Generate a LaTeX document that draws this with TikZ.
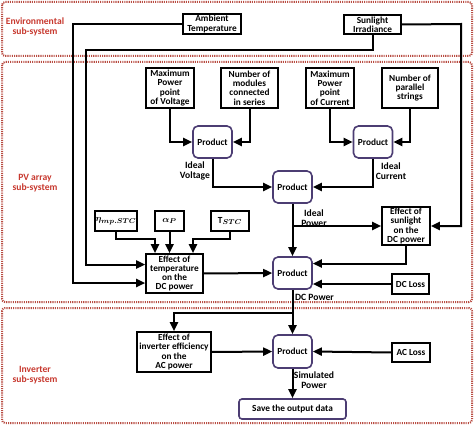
\documentclass[tikz,border=0pt]{standalone}
\usepackage{fontspec}
\setmainfont{Carlito}
\usepackage{bm}
\usetikzlibrary{arrows.meta}

\newlength{\du}
\setlength{\du}{1pt}

\definecolor{zonecolor}{rgb}{0.72,0.30,0.26}
\definecolor{zonetext}{rgb}{0.78,0.22,0.18}
\definecolor{prodcolor}{rgb}{0.30,0.24,0.45}

\tikzset{
  box/.style={draw=black, line width=1.6\du, fill=white, inner sep=0.5pt, align=center,
    font=\fontsize{9.3}{9.2}\selectfont\bfseries},
  prodbox/.style={box, draw=prodcolor, rounded corners=5\du, minimum width=39\du, minimum height=32\du},
  zone/.style={draw=zonecolor, line width=2\du, dash pattern=on 1.1\du off 1.1\du, rounded corners=3\du},
  zonelabel/.style={text=zonetext, align=center, font=\fontsize{9.6}{10}\selectfont\bfseries},
  flowlabel/.style={align=center, inner sep=0pt, font=\fontsize{9.6}{10}\selectfont\bfseries},
  arr/.style={line width=2\du, -{Triangle[length=9pt,width=8pt]}}
}

\begin{document}
\begin{tikzpicture}
\pgftransformxscale{1.000000}
\pgftransformyscale{-1.000000}
\useasboundingbox (0\du,0\du) rectangle (474\du,425\du);
% sub-system frames
\draw[zone] (2\du,2\du) rectangle (472\du,56\du);
\draw[zone] (2\du,62\du) rectangle (472\du,302\du);
\draw[zone] (2\du,308\du) rectangle (472\du,423\du);
\node[zonelabel] (envlbl) at (35\du,27\du) {Environmental\\sub-system};
\node[zonelabel] (pvlbl) at (35\du,183\du) {PV array\\sub-system};
\node[zonelabel] (invlbl) at (35\du,375\du) {Inverter\\sub-system};
% environmental inputs
\node[box, minimum width=58\du, minimum height=20\du] (amb) at (212\du,24\du) {Ambient\\Temperature};
\node[box, minimum width=57\du, minimum height=19\du] (sun) at (372.5\du,24.5\du) {Sunlight\\Irradiance};
% pv array parameters
\node[box, minimum width=48\du, minimum height=40\du] (mpv) at (170\du,88\du) {Maximum\\Power\\point\\of Voltage};
\node[box, minimum width=57\du, minimum height=40\du] (nmod) at (249.5\du,88\du) {Number of\\modules\\connected\\in series};
\node[box, minimum width=48\du, minimum height=40\du] (mpc) at (330\du,88\du) {Maximum\\Power\\point\\of Current};
\node[box, minimum width=56\du, minimum height=40\du] (npar) at (410\du,88\du) {Number of\\parallel\\strings};
\node[prodbox] (prodv) at (212.5\du,142\du) {Product};
\node[prodbox] (prodc) at (373\du,142\du) {Product};
\node[prodbox] (prodp) at (292.5\du,187\du) {Product};
\node[box, minimum width=48\du, minimum height=38\du] (effs) at (406\du,226\du) {Effect of\\sunlight\\on the\\DC power};
\node[box, minimum width=42\du, minimum height=20\du] (eta) at (116\du,221\du) {$\bm{\eta}_{\bm{mp.STC}}$};
\node[box, minimum width=29\du, minimum height=20\du] (alpha) at (169.5\du,221\du) {$\bm{\alpha}_{\bm{P}}$};
\node[box, minimum width=38\du, minimum height=20\du] (tstc) at (230\du,221\du) {$\mathbf{T}_{\bm{STC}}$};
\node[box, minimum width=57\du, minimum height=39\du] (efft) at (174.5\du,273.5\du) {Effect of\\temperature\\on the\\DC power};
\node[prodbox] (prodd) at (292.5\du,273\du) {Product};
\node[box, minimum width=37\du, minimum height=20\du] (dcl) at (410.5\du,284\du) {DC Loss};
% inverter
\node[box, minimum width=74\du, minimum height=40\du] (effi) at (174\du,352\du) {Effect of\\inverter efficiency\\on the\\AC power};
\node[prodbox, minimum height=33\du] (prodac) at (292.5\du,351.5\du) {Product};
\node[box, minimum width=38\du, minimum height=19\du] (acl) at (411\du,352.5\du) {AC Loss};
\node[prodbox, rounded corners=3\du, minimum width=107\du, minimum height=20\du] (save) at (292.5\du,409\du) {Save the output data};
% flow labels
\node[flowlabel] (lblv) at (195\du,171\du) {Ideal\\Voltage};
\node[flowlabel] (lblc) at (391\du,171\du) {Ideal\\Current};
\node[flowlabel] (lblp) at (314\du,218\du) {Ideal\\Power};
\node[flowlabel] (lbld) at (314.5\du,297\du) {DC Power};
\node[flowlabel] (lbls) at (314\du,380\du) {Simulated\\Power};
% turning points
\coordinate (ambturn) at (73\du,24\du);
\coordinate (sunturn) at (86\du,50\du);
\coordinate (sunright) at (461\du,24\du);
\coordinate (etaturn) at (155\du,239\du);
\coordinate (tturn) at (193\du,239\du);
\coordinate (dcbranch) at (292.5\du,313\du);
% connectors
\draw[arr] (amb.west) -- (ambturn) |- (efft.198);
\draw[arr] (sun.south) |- (sunturn) |- (efft.163);
\draw[arr] (sun.east) -- (sunright) |- (effs.east);
\draw[arr] (mpv.south) |- (prodv.west);
\draw[arr] (nmod.south) |- (prodv.east);
\draw[arr] (mpc.south) |- (prodc.west);
\draw[arr] (npar.south) |- (prodc.east);
\draw[arr] (prodv.south) |- (prodp.west);
\draw[arr] (prodc.south) |- (prodp.east);
\draw[arr] (prodp.south) -- (prodd.north);
\draw[arr] (prodp.south |- effs.west) -- (effs.west);
\draw[arr] (effs.south) |- (prodd.25);
\draw[arr] (dcl.west) -- (dcl.west -| prodd.east);
\draw[arr] (eta.south) |- (etaturn) -- (etaturn |- efft.north);
\draw[arr] (alpha.south) -- (alpha.south |- efft.north);
\draw[arr] (tstc.south) |- (tturn) -- (tturn |- efft.north);
\draw[arr] (efft.east) -- (prodd.west);
\draw[arr] (prodd.south) -- (prodac.north);
\draw[arr] (dcbranch) -| (effi.north);
\draw[arr] (effi.east) -- (prodac.west);
\draw[arr] (acl.west) -- (prodac.east);
\draw[arr] (prodac.south) -- (save.north);
\end{tikzpicture}
\end{document}
